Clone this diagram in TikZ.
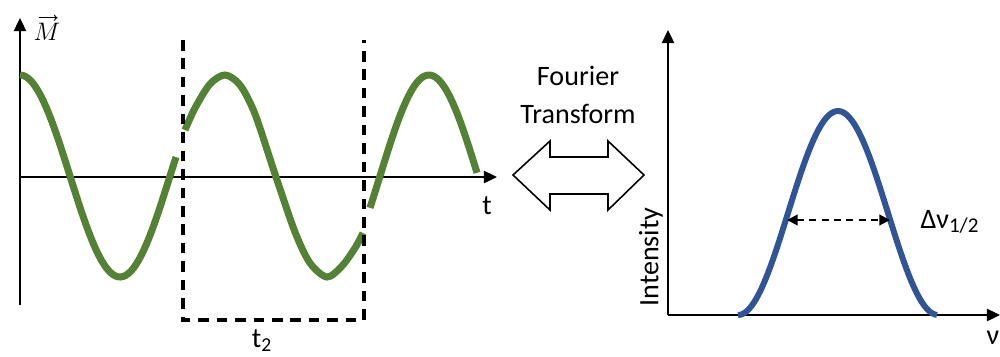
\documentclass[tikz,border=0pt]{standalone}
\usepackage{fontspec}
\setmainfont{Carlito}
\usetikzlibrary{arrows.meta,positioning,calc}
\definecolor{wavegreen}{RGB}{84,130,53}
\definecolor{bellblue}{RGB}{47,85,151}
\tikzset{
  axis/.style={-{Triangle[length=7.5pt,width=7pt]},line width=1.1pt},
  wave/.style={wavegreen,line width=4pt},
  bell/.style={bellblue,line width=3.4pt},
  window/.style={line width=2.1pt,dash pattern=on 6pt off 4.5pt},
  fwhm/.style={{Triangle[length=6pt,width=6pt]}-{Triangle[length=6pt,width=6pt]},line width=1.1pt,dash pattern=on 4pt off 3pt},
  lbl/.style={font=\fontsize{16}{19}\selectfont,inner sep=0pt}
}

\begin{document}
\begin{tikzpicture}[x=0.02cm,y=-0.02cm]
\useasboundingbox (0,0) rectangle (1000,356);

% time signal
\coordinate (o1) at (20,177);
\coordinate (ybot1) at (20,305);
\coordinate (ytop1) at (20,18);
\coordinate (xend1) at (497,177);
\draw[axis] (ybot1) -- (ytop1);
\draw[axis] (o1) -- (xend1);
\node[inner sep=0pt] (mlab) at (47,32) {\fontsize{14}{16}\selectfont$M$};
\draw[-{To[length=2pt,width=3.5pt]},line width=0.55pt] ([xshift=-4.5pt,yshift=3pt]mlab.north) -- ([xshift=6pt,yshift=3pt]mlab.north);
\node[lbl] (tlab) at (487,206) {t};

\draw[wave] plot[domain=20:176,samples=60] (\x,{176-101*cos((\x-20)/200*360)});
\draw[wave] plot[smooth] coordinates {(185,130) (195,108) (210,84) (225,75) (240,85)
  (255,114) (275,174) (295,232) (310,263) (327,277) (342,266) (355,248) (363,233)};
\draw[wave] plot[domain=370:477,samples=40] (\x,{176-101*sin((\x-380)/196*360)});

% acquisition window
\coordinate (wtl) at (183,40);
\coordinate (wbl) at (183,320);
\coordinate (wbr) at (364,320);
\coordinate (wtr) at (364,40);
\draw[window] (wtl) -- (wbl) -- (wbr) -- (wtr);
\node[lbl,anchor=north] (tacq) at (262,329) {t\textsubscript{2}};

% transform arrow
\coordinate (ft) at (578,175);
\draw[line width=0.9pt,line join=miter] ($(ft)+(-65,0)$) -- ($(ft)+(-28,-34)$) -- ($(ft)+(-28,-18)$)
  -- ($(ft)+(30,-18)$) -- ($(ft)+(30,-34)$) -- ($(ft)+(66,0)$) -- ($(ft)+(30,35)$)
  -- ($(ft)+(30,19)$) -- ($(ft)+(-28,19)$) -- ($(ft)+(-28,35)$) -- cycle;
\node[lbl,align=center] (fourier) at (578,95) {Fourier\\[3pt]Transform};

% spectrum
\coordinate (o2) at (668,315);
\coordinate (ytop2) at (668,30);
\coordinate (xend2) at (1000,315);
\draw[axis] (o2) -- (ytop2);
\draw[axis] (o2) -- (xend2);
\node[lbl,rotate=90] (ilab) at (651,257) {Intensity};
\node[lbl] (nulab) at (993,338) {ν};

\draw[bell] plot[domain=738:937,samples=80] (\x,{315-204*(1+cos((\x-838)/100*180))/2});
\coordinate (hl) at (787,220);
\coordinate (hr) at (890,220);
\draw[fwhm] (hl) -- (hr);
\node[lbl] (dnu) at (950,222) {Δν\textsubscript{\fontsize{12}{14}\selectfont 1/2}};

\end{tikzpicture}
\end{document}
